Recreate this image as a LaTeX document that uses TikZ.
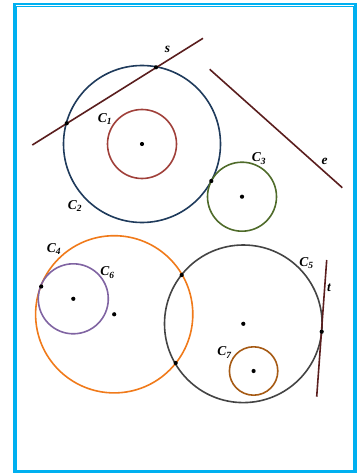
\documentclass[tikz,border=0pt]{standalone}
\usepackage{fontspec}
\setmainfont{Liberation Serif}
\usepackage{xcolor}
\usepackage{tikz}
\usetikzlibrary{positioning, calc}

\definecolor{framecol}{HTML}{00B0F0}
\definecolor{linecol}{HTML}{5A1E1E}
\definecolor{cone}{HTML}{A0403A}
\definecolor{ctwo}{HTML}{1F3B5C}
\definecolor{cthree}{HTML}{4F6B2A}
\definecolor{cfour}{HTML}{F07A1A}
\definecolor{cfive}{HTML}{444444}
\definecolor{csix}{HTML}{8064A2}
\definecolor{cseven}{HTML}{A65A14}

\newcommand{\clab}[1]{\textbf{\textit{C}}\textsubscript{\textit{#1}}}

\begin{document}
\begin{tikzpicture}[
  x=1pt, y=-1pt,
  font=\fontsize{13}{15}\selectfont,
  frame/.style={draw=framecol, line width=4pt},
  circ/.style={line width=1.6pt},
  lin/.style={draw=linecol, line width=1.6pt},
  lab/.style={inner sep=0pt, font=\fontsize{13.5}{15}\selectfont\bfseries\itshape},
  dot/.style={circle, fill=black, inner sep=0pt, minimum size=4.2pt}
]
\useasboundingbox (0,0) rectangle (360,473);

% Outer frame
\draw[frame] (15,5.5) rectangle (354.5,471.5);
\draw[white, line width=0.8pt] (15.5,5.5) -- (354,5.5);

% Centres
\coordinate (o1) at (142,144);
\coordinate (o3) at (242,196.7);
\coordinate (o4) at (114.2,314.3);
\coordinate (o5) at (243.3,323.8);
\coordinate (o6) at (73.3,298.8);
\coordinate (o7) at (253.6,371);

% Circles
\draw[circ, cone] (o1) circle (34.5pt);
\draw[circ, ctwo] (o1) circle (78.5pt);
\draw[circ, cthree] (o3) circle (34.5pt);
\draw[circ, cfour] (o4) circle (78.6pt);
\draw[circ, cfive] (o5) circle (78.8pt);
\draw[circ, csix] (o6) circle (35pt);
\draw[circ, cseven] (o7) circle (24.2pt);

% Straight lines
\coordinate (s1) at (32.3,145);
\coordinate (s2) at (203,38.3);
\coordinate (e1) at (209.7,69.3);
\coordinate (e2) at (342.3,187.7);
\coordinate (t1) at (326.7,260);
\coordinate (t2) at (316.7,396.7);
\draw[lin] (s1) -- (s2);
\draw[lin] (e1) -- (e2);
\draw[lin] (t1) -- (t2);

% Marked points
\foreach \p in {o1, o3, o4, o5, o6, o7}
  \node[dot] at (\p) {};
\node[dot] (p1) at (66.7,123.3) {};
\node[dot] (p2) at (156,67.3) {};
\node[dot] (p3) at (211.3,181) {};
\node[dot] (p4) at (41.2,286.5) {};
\node[dot] (p5) at (181.7,275) {};
\node[dot] (p6) at (175.7,363) {};
\node[dot] (p7) at (321.7,331.7) {};

% Labels
\node[lab] (l1) at (105,119) {\clab{1}};
\node[lab] (l2) at (75,206) {\clab{2}};
\node[lab] (l3) at (259,158.5) {\clab{3}};
\node[lab] (l4) at (54,249) {\clab{4}};
\node[lab] (l5) at (306.5,263) {\clab{5}};
\node[lab] (l6) at (107.5,272.5) {\clab{6}};
\node[lab] (l7) at (224.5,352.5) {\clab{7}};
\node[lab] (ls) at (167.5,49) {s};
\node[lab] (le) at (324.5,161) {e};
\node[lab] (lt) at (329,288) {t};

\end{tikzpicture}
\end{document}
